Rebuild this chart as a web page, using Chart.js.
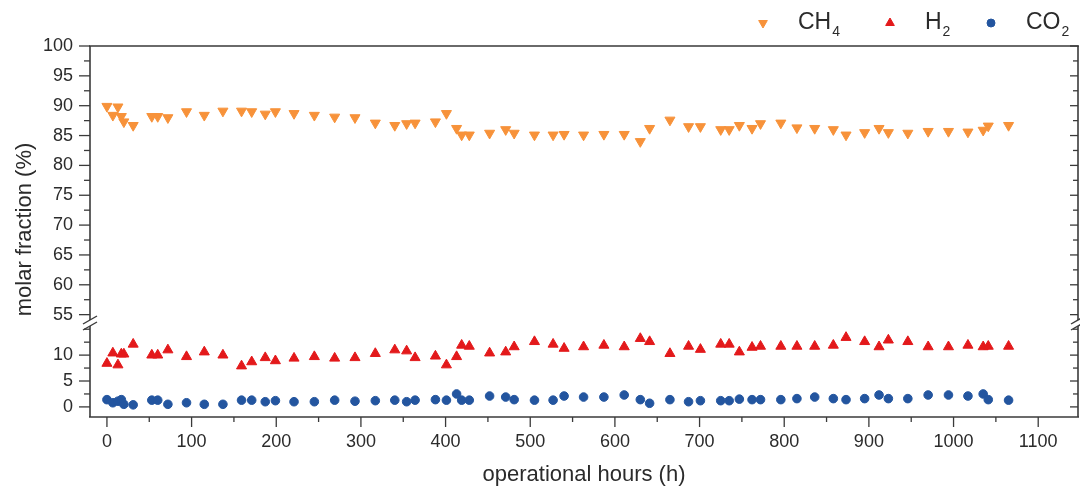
<!DOCTYPE html>
<html>
<head>
<meta charset="utf-8">
<title>molar fraction vs operational hours</title>
<script src="https://cdn.jsdelivr.net/npm/chart.js@4.4.1/dist/chart.umd.min.js"></script>
<style>
    html, body { margin: 0; padding: 0; background: #fff; }
</style>
</head>
<body>
<canvas id="myChart" width="1080" height="495"></canvas>
<script>
// sampling times (h)
const hours = [0, 7, 13, 17, 20, 31, 53, 60, 72, 94, 115, 137, 159, 171, 187, 199, 221, 245, 269, 293,
    317, 340, 354, 364, 388, 401, 413, 419, 428, 452, 471, 481, 505, 527, 540, 563, 587, 611, 630, 641,
    665, 687, 701, 725, 735, 747, 762, 772, 796, 815, 836, 858, 873, 895, 912, 923, 946, 970, 994, 1017,
    1035, 1041, 1065];

// molar fractions (%)
const ch4 = [89.9, 88.4, 89.8, 88.2, 87.3, 86.7, 88.2, 88.2, 88.0, 89.0, 88.4, 89.1, 89.1, 89.0, 88.6, 89.0, 88.7, 88.4, 88.1, 88.0,
    87.1, 86.7, 87.0, 87.1, 87.3, 88.7, 86.2, 85.1, 85.1, 85.4, 86.0, 85.4, 85.1, 85.1, 85.2, 85.1, 85.2, 85.2, 84.0, 86.2,
    87.6, 86.5, 86.5, 86.0, 86.0, 86.7, 86.2, 87.0, 87.1, 86.3, 86.2, 86.0, 85.1, 85.5, 86.2, 85.5, 85.4, 85.7, 85.7, 85.6,
    85.9, 86.6, 86.7];
const h2 = [8.4, 10.4, 8.1, 10.2, 10.2, 12.1, 10.0, 10.0, 11.0, 9.7, 10.6, 10.0, 7.9, 8.7, 9.5, 8.9, 9.4, 9.7, 9.4, 9.5,
    10.3, 11.0, 10.8, 9.5, 9.8, 8.1, 9.7, 11.9, 11.7, 10.4, 10.6, 11.6, 12.6, 12.1, 11.3, 11.6, 11.9, 11.6, 13.2, 12.6,
    10.3, 11.7, 11.1, 12.1, 12.1, 10.6, 11.5, 11.7, 11.7, 11.7, 11.7, 11.9, 13.4, 12.6, 11.6, 12.9, 12.6, 11.6, 11.6, 11.9,
    11.6, 11.7, 11.7];
const co2 = [1.4, 0.8, 1.1, 1.4, 0.5, 0.4, 1.3, 1.3, 0.5, 0.8, 0.5, 0.5, 1.3, 1.3, 1.0, 1.2, 1.0, 1.0, 1.3, 1.1,
    1.2, 1.3, 1.0, 1.3, 1.4, 1.3, 2.5, 1.3, 1.3, 2.1, 1.9, 1.4, 1.3, 1.3, 2.1, 1.9, 1.9, 2.3, 1.4, 0.7,
    1.4, 1.0, 1.2, 1.2, 1.2, 1.5, 1.4, 1.4, 1.4, 1.6, 1.9, 1.6, 1.4, 1.6, 2.3, 1.6, 1.6, 2.3, 2.3, 2.1,
    2.5, 1.4, 1.3];

// tick labels
const xTicks = [0, 100, 200, 300, 400, 500, 600, 700, 800, 900, 1000, 1100];
const upperTicks = [55, 60, 65, 70, 75, 80, 85, 90, 95, 100];
const lowerTicks = [0, 5, 10];

const orange = '#f7923a';
const red = '#e3191b';
const blue = '#23559f';
const axisColor = '#3a3a3a';
const textColor = '#2b2b2b';

Chart.defaults.font.family = "'Liberation Sans', Arial, sans-serif";
Chart.defaults.color = textColor;

function toPoints(values) {
    return hours.map((h, i) => ({ x: h, y: values[i] }));
}

function line(ctx, x1, y1, x2, y2) {
    ctx.beginPath();
    ctx.moveTo(x1, y1);
    ctx.lineTo(x2, y2);
    ctx.stroke();
}

// frame, tick marks and axis break
const framePlugin = {
    id: 'frame',
    beforeDatasetsDraw(chart) {
        const ctx = chart.ctx;
        const { left, right, top, bottom } = chart.chartArea;
        const x = chart.scales.x, up = chart.scales.yTop, low = chart.scales.yBot;
        const breakY = up.bottom;

        ctx.save();
        ctx.lineCap = 'butt';

        // top border
        ctx.strokeStyle = '#6a6a6a';
        ctx.lineWidth = 2.2;
        line(ctx, left - 1, top, right + 1, top);

        ctx.strokeStyle = axisColor;
        ctx.lineWidth = 1.6;
        line(ctx, left - 1, bottom, right + 1, bottom);
        line(ctx, left, top, left, breakY - 3);
        line(ctx, left, breakY + 3, left, bottom);
        line(ctx, right, top, right, breakY - 3);
        line(ctx, right, breakY + 3, right, bottom);

        // y ticks (outside on the left, inside on the right)
        ctx.lineWidth = 1.3;
        for (let v = 55; v <= 100; v += 2.5) {
            const y = up.getPixelForValue(v);
            const major = v % 5 === 0;
            line(ctx, left - (major ? 11 : 6), y, left, y);
            line(ctx, right - (major ? 8 : 5), y, right, y);
        }
        for (let v = 0; v <= 15; v += 2.5) {
            const y = low.getPixelForValue(v);
            const major = v % 5 === 0 && v < 15;
            line(ctx, left - (major ? 11 : 6), y, left, y);
            line(ctx, right - (major ? 8 : 5), y, right, y);
        }
        // x ticks
        for (let v = 0; v <= 1100; v += 50) {
            const px = x.getPixelForValue(v);
            line(ctx, px, bottom, px, bottom + (v % 100 === 0 ? 10 : 5));
        }

        // break marks
        ctx.lineWidth = 1.4;
        [left, right].forEach(cx => {
            line(ctx, cx - 7, breakY + 1, cx + 7, breakY - 7);
            line(ctx, cx - 7, breakY + 7, cx + 7, breakY - 1);
        });
        ctx.restore();
    },
    afterDraw(chart) {
        const ctx = chart.ctx;
        const up = chart.scales.yTop, low = chart.scales.yBot;
        ctx.save();

        // y title spanning both segments
        ctx.fillStyle = textColor;
        ctx.font = "22px 'Liberation Sans', Arial, sans-serif";
        ctx.textAlign = 'center';
        ctx.textBaseline = 'middle';
        ctx.translate(25, (up.top + low.bottom) / 2 - 2);
        ctx.rotate(-Math.PI / 2);
        ctx.fillText('molar fraction (%)', 0, 0);
        ctx.restore();

        // legend
        const items = [
            { mx: 763, style: 'triangle', rot: 180, color: orange, tx: 798, main: 'CH', sub: '4' },
            { mx: 890, style: 'triangle', rot: 0, color: red, tx: 925, main: 'H', sub: '2' },
            { mx: 991, style: 'circle', rot: 0, color: blue, tx: 1026, main: 'CO', sub: '2' }
        ];
        ctx.save();
        items.forEach(it => {
            ctx.fillStyle = it.color;
            ctx.strokeStyle = it.color;
            ctx.lineWidth = 1;
            Chart.helpers.drawPoint(ctx, { pointStyle: it.style, rotation: it.rot, radius: it.style === 'circle' ? 4 : 5, borderWidth: 1 }, it.mx, 23);
            ctx.fillStyle = textColor;
            ctx.textAlign = 'left';
            ctx.textBaseline = 'middle';
            ctx.font = "23px 'Liberation Sans', Arial, sans-serif";
            ctx.fillText(it.main, it.tx, 23);
            const w = ctx.measureText(it.main).width;
            ctx.font = "14px 'Liberation Sans', Arial, sans-serif";
            ctx.fillText(it.sub, it.tx + w + 1, 32);
        });
        ctx.restore();
    }
};

function yAxis(min, max, weight, tickValues) {
    return {
        type: 'linear',
        position: 'left',
        stack: 'molar',
        stackWeight: weight,
        min: min,
        max: max,
        afterBuildTicks: s => { s.ticks = tickValues.map(v => ({ value: v })); },
        afterFit: s => { s.width = 90; s.paddingTop = 0; s.paddingBottom = 0; },
        grid: { display: false, drawTicks: false },
        border: { display: false },
        ticks: { padding: 17, font: { size: 18 }, color: textColor, autoSkip: false, callback: v => String(v) }
    };
}

new Chart(document.getElementById('myChart'), {
    type: 'scatter',
    data: {
        datasets: [
            {
                label: 'CH4',
                data: toPoints(ch4),
                yAxisID: 'yTop',
                pointStyle: 'triangle',
                rotation: 180,
                pointRadius: 5.8,
                borderWidth: 1,
                backgroundColor: orange,
                borderColor: orange
            },
            {
                label: 'H2',
                data: toPoints(h2),
                yAxisID: 'yBot',
                pointStyle: 'triangle',
                pointRadius: 5.8,
                borderWidth: 1,
                backgroundColor: red,
                borderColor: red
            },
            {
                label: 'CO2',
                data: toPoints(co2),
                yAxisID: 'yBot',
                pointStyle: 'circle',
                pointRadius: 4.3,
                borderWidth: 1,
                backgroundColor: blue,
                borderColor: blue
            }
        ]
    },
    options: {
        responsive: false,
        animation: false,
        layout: { autoPadding: false, padding: { top: 46, right: 2, left: 0, bottom: 0 } },
        scales: {
            x: {
                type: 'linear',
                min: -20,
                max: 1147,
                afterBuildTicks: s => { s.ticks = xTicks.map(v => ({ value: v })); },
                afterFit: s => { s.height = 78; s.paddingLeft = 0; s.paddingRight = 0; },
                grid: { display: false, drawTicks: false },
                border: { display: false },
                ticks: { padding: 14, font: { size: 18 }, color: textColor, maxRotation: 0, autoSkip: false, callback: v => String(v) },
                title: { display: true, text: 'operational hours (h)', font: { size: 22 }, color: textColor, padding: { top: 0, bottom: 7 } }
            },
            yBot: yAxis(-1.95, 16.2, 94, lowerTicks),
            yTop: yAxis(53.6, 100, 277, upperTicks)
        },
        plugins: {
            legend: { display: false },
            tooltip: { enabled: false }
        }
    },
    plugins: [framePlugin]
});
</script>
</body>
</html>
